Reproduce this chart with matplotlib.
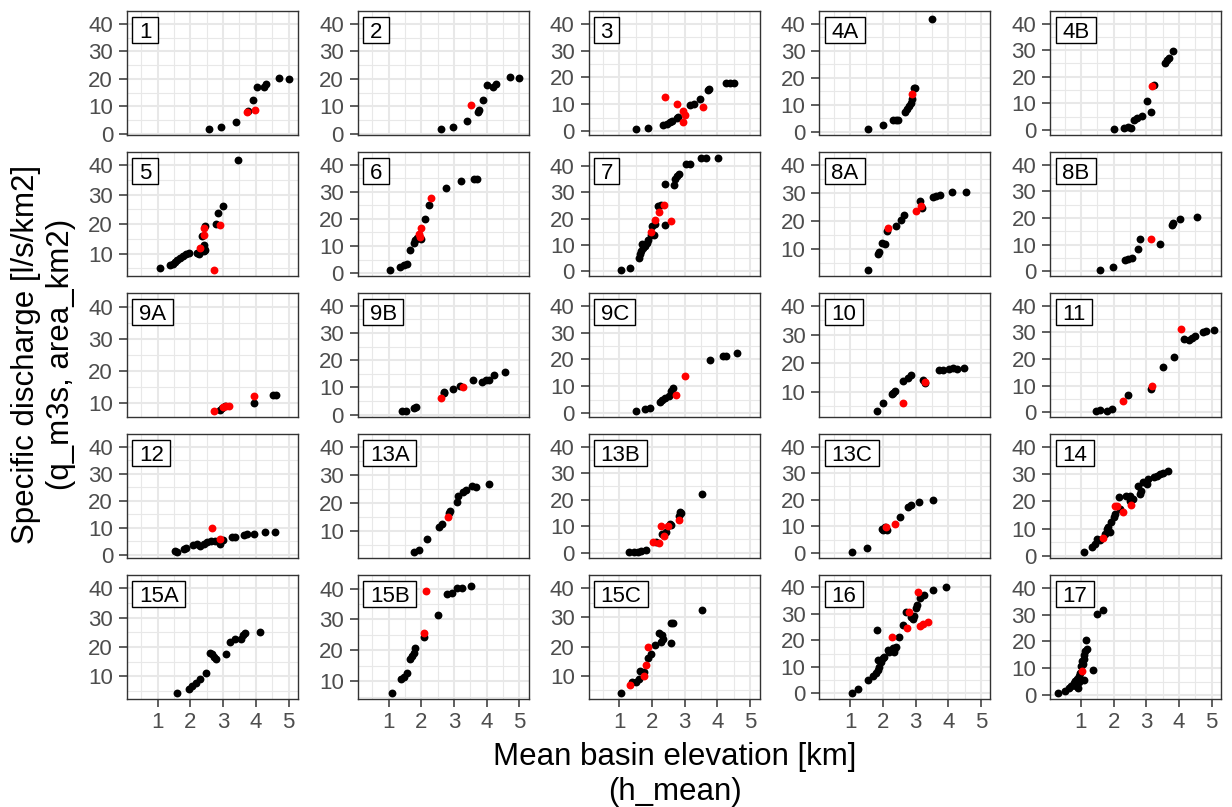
import matplotlib.pyplot as plt
import matplotlib.patches as mpatches
import numpy as np

plt.rcParams['font.family'] = ['Liberation Sans', 'DejaVu Sans']

# -----------------------------
# Data: (h_mean [km], specific discharge [l/s/km2])
# obs_* = black points, red_* = red points
# -----------------------------
regions = ["1", "2", "3", "4A", "4B",
           "5", "6", "7", "8A", "8B",
           "9A", "9B", "9C", "10", "11",
           "12", "13A", "13B", "13C", "14",
           "15A", "15B", "15C", "16", "17"]

obs_1 = [(2.56, 1.8), (2.94, 2.6), (3.40, 4.2), (3.75, 8.4), (3.90, 12.2), (4.03, 17.2),
         (4.24, 17.2), (4.31, 18.0), (4.72, 20.2), (5.01, 20.0)]
red_1 = [(3.73, 8.0), (3.99, 8.6)]

obs_2 = [(2.59, 1.8), (2.96, 2.6), (3.40, 4.6), (3.73, 8.0), (3.76, 8.8), (3.89, 12.2),
         (4.01, 17.6), (4.19, 17.2), (4.29, 18.2), (4.70, 20.8), (5.00, 20.4)]
red_2 = [(3.52, 10.4)]

obs_3 = [(1.52, 0.9), (1.87, 1.2), (2.33, 2.3), (2.45, 2.8), (2.54, 3.3), (2.61, 3.9),
         (2.76, 5.0), (2.80, 5.4), (3.17, 9.7), (3.27, 10.1), (3.48, 11.9), (3.71, 15.3),
         (3.74, 15.9), (4.27, 17.8), (4.39, 17.8), (4.52, 17.8)]
red_3 = [(2.40, 12.9), (2.77, 10.3), (2.96, 7.4), (3.01, 6.2), (2.96, 3.6), (3.55, 9.2)]

obs_4A = [(1.56, 1.0), (2.02, 2.5), (2.32, 4.2), (2.40, 4.3), (2.47, 4.3), (2.68, 7.4),
          (2.75, 8.3), (2.81, 9.6), (2.85, 10.6), (2.88, 12.0), (2.95, 16.0), (2.98, 16.3),
          (3.49, 41.8)]
red_4A = [(2.88, 13.9)]

obs_4B = [(2.02, 0.4), (2.33, 0.7), (2.45, 1.0), (2.54, 0.7), (2.63, 3.9), (2.71, 4.5),
          (2.86, 5.1), (3.01, 10.7), (3.15, 6.8), (3.22, 16.8), (3.57, 25.3), (3.64, 26.3),
          (3.70, 26.9), (3.81, 29.6)]
red_4B = [(3.17, 16.6)]

obs_5 = [(1.08, 5.1), (1.37, 6.1), (1.47, 6.6), (1.54, 7.3), (1.59, 7.9), (1.69, 8.7),
         (1.77, 9.2), (1.87, 9.8), (1.95, 10.1), (2.20, 10.3), (2.25, 10.0), (2.30, 10.7),
         (2.35, 11.5), (2.42, 12.0), (2.40, 13.1), (2.35, 15.9), (2.45, 19.3), (2.45, 11.2),
         (2.42, 10.9), (2.79, 20.2), (2.83, 23.8), (2.99, 26.2), (3.44, 41.7)]
red_5 = [(2.42, 18.7), (2.42, 16.5), (2.30, 12.0), (2.71, 4.5), (2.91, 19.6)]

obs_6 = [(1.04, 1.2), (1.35, 2.4), (1.47, 3.1), (1.55, 3.3), (1.65, 8.4), (1.77, 11.0),
         (1.82, 12.2), (1.87, 12.8), (2.00, 12.7), (2.13, 19.8), (2.25, 25.1), (2.76, 31.4),
         (3.22, 33.9), (3.61, 34.7), (3.71, 34.7)]
red_6 = [(1.93, 14.3), (1.96, 13.5), (2.00, 16.8), (2.31, 27.8)]

obs_7 = [(1.06, 0.6), (1.34, 1.2), (1.60, 5.2), (1.64, 6.5), (1.67, 7.7), (1.72, 8.9),
         (1.70, 10.2), (1.77, 9.8), (1.84, 10.8), (1.87, 11.8), (1.98, 13.9), (2.05, 13.9),
         (2.01, 17.0), (2.08, 18.0), (2.18, 24.8), (2.28, 25.1), (2.40, 17.5), (2.40, 32.9),
         (2.66, 32.5), (2.71, 35.0), (2.77, 36.0), (2.82, 36.9), (3.05, 40.4), (3.17, 40.4),
         (3.50, 43.0), (3.66, 42.8), (4.03, 42.8)]
red_7 = [(1.98, 14.9), (2.10, 19.5), (2.21, 22.6), (2.38, 25.1), (2.59, 18.9)]

obs_8A = [(1.56, 2.4), (1.86, 8.0), (1.89, 8.9), (1.97, 12.1), (2.07, 11.5), (2.14, 16.3),
          (2.40, 18.1), (2.57, 20.2), (2.65, 22.2), (3.13, 27.0), (3.20, 24.6), (3.54, 28.5),
          (3.64, 28.9), (3.74, 29.3), (4.13, 30.3), (4.53, 30.3)]
red_8A = [(2.17, 17.5), (3.01, 23.4), (3.16, 25.2)]

obs_8B = [(1.57, 0.6), (1.98, 1.5), (2.35, 4.2), (2.45, 4.8), (2.56, 5.2), (2.76, 8.3),
          (2.81, 12.3), (3.42, 10.4), (3.78, 17.3), (3.83, 18.3), (4.03, 19.8), (4.54, 20.4)]
red_8B = [(3.15, 12.0)]

obs_9A = [(2.91, 8.1), (2.96, 8.5), (3.07, 9.3), (3.93, 10.3), (4.54, 12.6), (4.62, 12.6)]
red_9A = [(2.71, 7.7), (3.01, 8.8), (3.10, 9.1), (3.17, 9.1), (3.93, 12.4)]

obs_9B = [(1.42, 1.4), (1.52, 1.4), (1.77, 2.4), (1.85, 3.0), (2.69, 7.8), (2.71, 8.3),
          (2.97, 9.6), (3.20, 10.7), (3.59, 12.9), (3.86, 12.0), (3.98, 12.6), (4.06, 12.9),
          (4.22, 14.5), (4.57, 15.8)]
red_9B = [(2.59, 6.0), (3.27, 10.2)]

obs_9C = [(1.50, 0.9), (1.77, 1.5), (1.93, 2.1), (2.23, 4.3), (2.31, 4.9), (2.41, 5.7),
          (2.52, 6.4), (2.59, 8.2), (2.64, 9.4), (3.78, 19.8), (4.17, 21.3), (4.27, 21.4),
          (4.60, 22.3)]
red_9C = [(2.74, 6.7), (3.01, 13.9)]

obs_10 = [(1.81, 3.2), (2.02, 5.9), (2.27, 9.1), (2.32, 9.6), (2.37, 10.2), (2.61, 13.7),
          (2.78, 14.9), (2.85, 15.7), (3.22, 14.1), (3.29, 12.9), (3.73, 17.5), (3.85, 17.5),
          (4.01, 17.8), (4.16, 18.3), (4.26, 18.0), (4.49, 18.1)]
red_10 = [(2.61, 5.8), (3.29, 13.4)]

obs_11 = [(1.47, 0.6), (1.57, 0.9), (1.79, 0.6), (1.95, 1.2), (2.43, 6.4), (3.14, 8.9),
          (3.52, 17.0), (3.85, 20.6), (4.15, 27.4), (4.29, 27.1), (4.39, 27.9), (4.49, 28.6),
          (4.72, 30.2), (4.83, 30.4), (5.06, 31.0)]
red_11 = [(2.30, 4.3), (3.17, 9.8), (4.05, 31.1)]

obs_12 = [(1.54, 1.4), (1.59, 1.0), (1.79, 2.0), (1.87, 2.3), (2.08, 3.5), (2.20, 3.8),
          (2.28, 3.3), (2.40, 4.1), (2.50, 4.5), (2.63, 5.0), (2.76, 5.0), (2.91, 4.1),
          (3.01, 5.4), (3.27, 6.4), (3.37, 6.6), (3.63, 7.3), (3.73, 7.5), (3.93, 7.5),
          (4.29, 8.3), (4.59, 8.3)]
red_12 = [(2.66, 9.8), (2.91, 5.6)]

obs_13A = [(1.77, 2.6), (1.93, 3.3), (2.18, 7.1), (2.54, 11.5), (2.64, 12.7), (2.84, 16.5),
           (2.89, 17.2), (3.08, 20.4), (3.12, 22.5), (3.28, 23.9), (3.38, 24.5), (3.55, 26.0),
           (3.69, 25.6), (4.06, 26.8)]
red_13A = [(2.82, 15.1)]

obs_13B = [(1.31, 0.3), (1.44, 0.4), (1.57, 0.4), (1.67, 0.6), (1.82, 0.9), (2.13, 4.1),
           (2.31, 7.1), (2.43, 7.7), (2.55, 10.9), (2.59, 10.6), (2.84, 13.7), (2.89, 14.9),
           (2.86, 15.5), (3.53, 22.2)]
red_13B = [(2.03, 4.2), (2.21, 3.8), (2.28, 10.0), (2.38, 6.2), (2.50, 10.0), (2.82, 12.3)]

obs_13C = [(1.07, 0.4), (1.53, 1.9), (1.97, 9.0), (2.07, 9.6), (2.14, 8.7), (2.02, 8.8),
           (2.53, 13.7), (2.76, 17.4), (2.85, 18.0), (3.12, 19.0), (3.54, 19.9)]
red_13C = [(2.10, 9.8), (2.37, 10.8)]

obs_14 = [(1.08, 1.5), (1.34, 3.3), (1.44, 4.5), (1.49, 6.1), (1.59, 5.8), (1.74, 8.2),
          (1.79, 10.0), (1.89, 8.8), (1.84, 10.6), (1.92, 12.4), (2.00, 14.2), (2.05, 15.5),
          (2.15, 21.5), (2.19, 17.3), (2.38, 22.1), (2.50, 22.1), (2.50, 20.3), (2.58, 20.9),
          (2.81, 22.7), (2.84, 23.9), (2.76, 25.8), (2.91, 27.0), (3.01, 26.4), (3.06, 28.2),
          (3.22, 28.8), (3.32, 29.4), (3.42, 30.0), (3.52, 30.4), (3.67, 31.2)]
red_14 = [(1.67, 6.7), (2.03, 18.2), (2.09, 18.2), (2.30, 16.1), (2.53, 18.7)]

obs_15A = [(1.59, 4.3), (1.95, 5.7), (2.05, 6.6), (2.18, 7.7), (2.28, 9.1), (2.47, 11.1),
           (2.59, 17.9), (2.66, 17.4), (2.71, 16.6), (2.79, 15.7), (3.10, 17.6), (3.20, 21.6),
           (3.37, 22.8), (3.54, 22.7), (3.60, 24.2), (3.68, 24.7), (4.13, 24.9)]
red_15A = []

obs_15B = [(1.11, 6.2), (1.37, 10.8), (1.47, 11.4), (1.55, 12.5), (1.65, 17.2), (1.72, 18.1),
           (1.77, 19.1), (1.82, 20.7), (2.08, 24.4), (2.52, 31.6), (2.79, 38.4), (2.94, 38.7),
           (3.08, 40.2), (3.25, 40.3), (3.53, 40.8)]
red_15B = [(2.08, 25.7), (2.16, 39.1)]

obs_15C = [(1.06, 4.1), (1.40, 7.7), (1.52, 7.7), (1.60, 8.9), (1.64, 11.7), (1.74, 11.1),
           (1.87, 16.2), (1.98, 17.4), (2.08, 20.5), (2.20, 24.5), (2.31, 23.9), (2.28, 21.7),
           (2.33, 22.6), (2.57, 21.1), (2.59, 27.9), (2.64, 28.2), (3.53, 32.6)]
red_15C = [(1.34, 6.8), (1.75, 9.8), (1.82, 13.7), (1.87, 20.0)]

obs_16 = [(1.05, 0.2), (1.23, 1.5), (1.54, 5.0), (1.69, 6.4), (1.79, 7.7), (1.84, 8.9),
          (1.89, 10.1), (1.86, 12.6), (1.95, 12.0), (2.00, 13.2), (2.05, 13.9), (2.15, 16.3),
          (2.20, 15.7), (2.30, 17.0), (2.35, 16.3), (2.40, 17.6), (2.33, 15.7), (2.48, 21.3),
          (1.81, 24.0), (2.61, 25.9), (2.71, 30.6), (2.86, 28.7), (2.96, 29.3), (2.91, 28.1),
          (3.01, 32.4), (3.04, 33.3), (3.15, 36.1), (3.27, 37.0), (3.52, 39.0), (3.93, 40.2)]
red_16 = [(2.27, 21.3), (2.74, 24.6), (2.81, 30.8), (3.07, 38.2), (3.15, 25.6), (3.22, 26.2),
          (3.37, 26.9)]

obs_17 = [(0.29, 0.9), (0.52, 1.7), (0.62, 2.7), (0.69, 3.6), (0.78, 4.6), (0.83, 5.4),
          (0.85, 3.5), (0.88, 6.0), (0.90, 2.7), (0.93, 7.2), (0.93, 4.8), (0.95, 6.5),
          (0.98, 8.4), (1.00, 10.9), (1.03, 12.6), (1.05, 11.5), (1.08, 15.1), (1.10, 13.5),
          (1.13, 16.5), (1.18, 17.2), (1.16, 20.5), (1.10, 5.8), (1.37, 9.5), (1.49, 30.1),
          (1.69, 31.5)]
red_17 = [(1.04, 9.1)]

panel_data = {
    "1": (obs_1, red_1), "2": (obs_2, red_2), "3": (obs_3, red_3),
    "4A": (obs_4A, red_4A), "4B": (obs_4B, red_4B), "5": (obs_5, red_5),
    "6": (obs_6, red_6), "7": (obs_7, red_7), "8A": (obs_8A, red_8A),
    "8B": (obs_8B, red_8B), "9A": (obs_9A, red_9A), "9B": (obs_9B, red_9B),
    "9C": (obs_9C, red_9C), "10": (obs_10, red_10), "11": (obs_11, red_11),
    "12": (obs_12, red_12), "13A": (obs_13A, red_13A), "13B": (obs_13B, red_13B),
    "13C": (obs_13C, red_13C), "14": (obs_14, red_14), "15A": (obs_15A, red_15A),
    "15B": (obs_15B, red_15B), "15C": (obs_15C, red_15C), "16": (obs_16, red_16),
    "17": (obs_17, red_17),
}

x_ticks = [1, 2, 3, 4, 5]
y_ticks = [0, 10, 20, 30, 40]

# -----------------------------
# Layout
# -----------------------------
W, H = 1232, 807
fig = plt.figure(figsize=(W / 100, H / 100), dpi=100)

x_lim = (0.06, 5.29)
y_top = 42.6          # common upper data extent of the free y scales
grid_col = '#E8E8E8'
frame_col = '#333333'
tick_col = '#4D4D4D'
fs_tick = 16
fs_title = 22.5

labels = []
for k, reg in enumerate(regions):
    i, j = k % 5, k // 5
    left = 127 + 230.8 * i
    top = 11 + 141 * j
    ax = fig.add_axes([left / W, 1 - (top + 123.5) / H, 171 / W, 123.5 / H])

    # ticks first: set_ticks would otherwise widen the view limits
    ax.set_xticks(x_ticks)
    ax.set_xticks(np.arange(0.5, 5.0, 1.0), minor=True)
    ax.set_yticks(y_ticks)
    ax.set_yticks([5, 15, 25, 35], minor=True)

    obs, red = panel_data[reg]
    ys = [p[1] for p in obs + red]
    lo, hi = min(ys), max(max(ys), y_top)
    pad = 0.05 * (hi - lo)
    ax.set_ylim(lo - pad, hi + pad)
    ax.set_xlim(*x_lim)

    ax.grid(which='major', color=grid_col, lw=1.5)
    ax.grid(which='minor', color=grid_col, lw=0.8)
    ax.set_axisbelow(True)

    ax.tick_params(which='minor', length=0)
    ax.tick_params(which='major', length=5.5, width=1.1, color=frame_col,
                   labelsize=fs_tick, labelcolor=tick_col, pad=4.5)
    if j < 4:
        ax.tick_params(axis='x', bottom=False, labelbottom=False)
    for sp in ax.spines.values():
        sp.set_color(frame_col)
        sp.set_linewidth(1.0)

    if obs:
        ax.scatter([p[0] for p in obs], [p[1] for p in obs], s=32, c='black',
                   linewidths=0, zorder=3)
    if red:
        ax.scatter([p[0] for p in red], [p[1] for p in red], s=32, c='red',
                   linewidths=0, zorder=3)

    t = ax.text(0.07, 0.785, reg, transform=ax.transAxes, fontsize=fs_tick,
                color='black', ha='left', va='baseline', zorder=6)
    labels.append((ax, t))

# label boxes (tight around the cap height, like geom_label)
fig.canvas.draw()
cap = 0.716 * fs_tick * fig.dpi / 72
for ax, t in labels:
    bb = t.get_window_extent()
    bx, by = ax.transAxes.transform((0.07, 0.785))
    x0, x1 = bb.x0 - 6.5, bb.x1 + 6.5
    y0, y1 = by - 5, by + cap + 5
    inv = ax.transAxes.inverted()
    (ax0, ay0), (ax1, ay1) = inv.transform([(x0, y0), (x1, y1)])
    ax.add_patch(mpatches.Rectangle((ax0, ay0), ax1 - ax0, ay1 - ay0,
                                    transform=ax.transAxes, fc='white', ec='black',
                                    lw=1.0, zorder=5, clip_on=False))

# axis titles
fig.text(0.5475, 0.04, "Mean basin elevation [km]\n(h_mean)", ha='center', va='center',
         fontsize=fs_title, multialignment='center')
fig.text(0.0355, 0.561, "Specific discharge [l/s/km2]\n(q_m3s, area_km2)", ha='center',
         va='center', rotation=90, fontsize=fs_title, multialignment='center')

fig.savefig("out.png", dpi=100)
